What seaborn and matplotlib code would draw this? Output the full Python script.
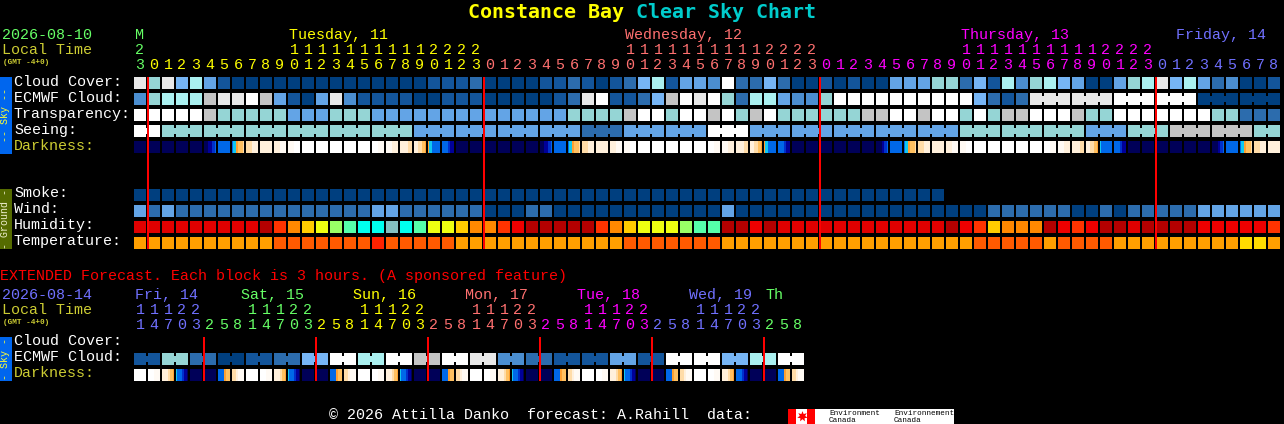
import numpy as np
import matplotlib
matplotlib.use("Agg")
import matplotlib.pyplot as plt
from matplotlib.colors import ListedColormap
from matplotlib.patches import Rectangle
import seaborn as sns

W, H = 1284, 424

# palettes
sky_colors = ["#003f7f", "#13559b", "#2c6cad", "#4b8ed0", "#63a4e6", "#76b5f5",
              "#95d5d5", "#aaf0f0", "#c4c4c4", "#e8e8e8", "#ffffff"]
humidity_colors = ["#b40000", "#e00000", "#ee0000", "#ff3300", "#ff8800", "#ffcc00",
                   "#eeff11", "#99ff66", "#55ffaa", "#00ffee", "#85c0c0"]
temp_colors = ["#ff9f00", "#ff5a00", "#ff2200", "#ffdc00"]
dark_colors = ["#000058", "#000099", "#0030cc", "#0068e8", "#10c8f0", "#ffa030",
               "#ffc060", "#ffdca8", "#fff0dc", "#fffaf4", "#ffffff"]

# hourly rows
cloud_cover = [9, 6, 9, 5, 7, 4, 1, 0, 0, 0,
               0, 0, 0, 0, 0, 0, 0, 0, 0, 0,
               0, 1, 1, 1, 2, 0, 0, 0, 0, 1,
               1, 2, 1, 0, 1, 2, 5, 7, 1, 4,
               4, 3, 10, 2, 2, 5, 2, 0, 0, 1,
               0, 1, 0, 0, 4, 4, 4, 6, 6, 2,
               5, 1, 7, 3, 6, 7, 5, 4, 0, 0,
               4, 6, 7, 9, 5, 7, 4, 2, 3, 0,
               0, 1]
ecmwf_cloud = [3, 6, 7, 7, 7, 8, 9, 9, 10, 8,
               4, 1, 0, 4, 9, 3, 1, 1, 1, 1,
               0, 0, 1, 1, 1, 0, 0, 0, 0, 0,
               1, 2, 9, 10, 1, 1, 2, 5, 8, 10,
               9, 10, 6, 2, 7, 7, 4, 3, 3, 6,
               10, 10, 10, 10, 10, 10, 10, 10, 10, 10,
               5, 2, 1, 2, 9, 9, 9, 9, 9, 9,
               10, 10, 10, 10, 10, 10, 0, 0, 0, 0,
               0, 0]
transparency = [10, 10, 10, 10, 10, 8, 6, 6, 6, 6,
                6, 4, 4, 4, 6, 6, 6, 4, 4, 4,
                4, 4, 4, 4, 4, 4, 4, 4, 4, 4,
                4, 6, 6, 6, 6, 8, 10, 10, 6, 10,
                10, 8, 10, 6, 8, 10, 6, 6, 6, 6,
                6, 6, 8, 8, 10, 10, 8, 10, 10, 6,
                10, 6, 8, 8, 10, 10, 10, 8, 6, 6,
                10, 10, 10, 10, 10, 10, 10, 6, 6, 2,
                2, 2]
seeing = [10, 10, 6, 6, 6, 6, 6, 6, 6, 6,
          6, 6, 6, 6, 6, 6, 6, 6, 6, 6,
          4, 4, 4, 4, 4, 4, 4, 4, 4, 4,
          4, 4, 2, 2, 2, 4, 4, 4, 4, 4,
          4, 10, 10, 10, 4, 4, 4, 4, 4, 4,
          4, 4, 4, 4, 4, 4, 4, 4, 4, 6,
          6, 6, 6, 6, 6, 6, 6, 6, 4, 4,
          4, 6, 6, 6, 8, 8, 8, 8, 8, 8,
          6, 6]
smoke = [0, 0, 0, 0, 0, 0, 0, 0, 0, 0,
         0, 0, 0, 0, 0, 0, 0, 0, 0, 0,
         0, 0, 0, 0, 0, 0, 0, 0, 0, 0,
         0, 0, 0, 0, 0, 0, 0, 0, 0, 0,
         0, 0, 0, 0, 0, 0, 0, 0, 0, 0,
         0, 0, 0, 0, 0, 0, 0, 0]
wind = [4, 2, 4, 2, 2, 2, 2, 2, 2, 2,
        2, 2, 2, 2, 2, 2, 2, 4, 4, 2,
        2, 2, 2, 2, 2, 0, 0, 0, 2, 2,
        0, 0, 0, 0, 0, 0, 0, 0, 0, 0,
        0, 0, 4, 0, 0, 0, 0, 0, 0, 0,
        0, 0, 0, 0, 0, 0, 0, 0, 0, 0,
        0, 2, 2, 2, 2, 2, 2, 0, 0, 2,
        0, 2, 2, 2, 2, 2, 4, 4, 4, 4,
        4, 4]
humidity = [1, 1, 1, 1, 1, 1, 1, 1, 1, 0,
            3, 4, 5, 6, 7, 8, 9, 9, 10, 9,
            8, 6, 6, 5, 4, 4, 3, 2, 0, 0,
            0, 0, 0, 3, 4, 5, 6, 6, 6, 7,
            8, 8, 0, 0, 2, 0, 1, 1, 1, 1,
            1, 1, 1, 1, 1, 1, 1, 1, 0, 2,
            3, 5, 4, 4, 4, 0, 2, 3, 2, 0,
            0, 1, 0, 0, 0, 0, 2, 2, 2, 2,
            2, 3]
temperature = [0, 0, 0, 0, 0, 0, 0, 0, 0, 0,
               1, 1, 1, 1, 1, 1, 1, 2, 1, 1,
               1, 1, 1, 0, 0, 0, 0, 0, 0, 0,
               0, 0, 0, 0, 0, 1, 1, 1, 1, 1,
               1, 1, 0, 0, 0, 0, 0, 0, 0, 0,
               0, 0, 0, 0, 0, 0, 0, 0, 0, 0,
               1, 1, 1, 1, 1, 0, 1, 1, 1, 1,
               0, 0, 0, 0, 0, 0, 0, 0, 0, 3,
               3, 0]

# darkness: six samples per cell, hex digit indexes dark_colors
darkness = ["000000", "000000", "000000", "000000", "000000", "001123", "333333", "345667",
            "777888", "888888", "888999", "999aaa", "aaaaaa", "aaaaaa", "aaaaaa", "aaaaaa",
            "aaaaaa", "aaa999", "999888", "888877", "887765", "543333", "333211", "000000",
            "000000", "000000", "000000", "000000", "000000", "001123", "333333", "345667",
            "777888", "888888", "888999", "999aaa", "aaaaaa", "aaaaaa", "aaaaaa", "aaaaaa",
            "aaaaaa", "aaa999", "999888", "888877", "887765", "543333", "333211", "000000",
            "000000", "000000", "000000", "000000", "000000", "000123", "333333", "345667",
            "777888", "888888", "888999", "999aaa", "aaaaaa", "aaaaaa", "aaaaaa", "aaaaaa",
            "aaaaaa", "aaa999", "999888", "888877", "887765", "433333", "333211", "000000",
            "000000", "000000", "000000", "000000", "000000", "000123", "333333", "345667",
            "777888", "888888"]

# extended forecast
ext_ecmwf_blocks = [1, 6, 2, 0, 1, 2, 5, 10, 7, 10, 8, 10,
                    9, 3, 2, 1, 1, 4, 1, 10, 10, 5, 7, 10]
ext_darkness = ["aaaaaa", "aaa999", "888765", "433210", "000000", "000000", "333566", "778999",
                "aaaaaa", "aaa999", "888765", "433210", "000000", "000000", "333566", "778999",
                "aaaaaa", "aaa999", "888765", "433210", "000000", "000000", "333566", "778999",
                "aaaaaa", "aaa999", "888765", "433210", "000000", "000000", "333566", "778999",
                "aaaaaa", "aaa999", "888765", "433210", "000000", "000000", "333566", "778999",
                "aaaaaa", "aaa999", "888765", "333210", "000000", "000000", "333566", "778999"]

# header labels
hours_day = [0, 1, 2, 3, 4, 5, 6, 7, 8, 9, 10, 11, 12, 13, 14, 15, 16, 17, 18, 19, 20, 21, 22, 23]
top_hours = [23] + hours_day + hours_day + hours_day + [0, 1, 2, 3, 4, 5, 6, 7, 8]
top_day_starts = [0, 1, 25, 49, 73]
top_colors = ["#66ff66", "#ffff00", "#ff7070", "#ff00ff", "#7070ff"]
top_labels = ["M", "Tuesday, 11", "Wednesday, 12", "Thursday, 13", "Friday, 14"]
top_label_x = [135, 289, 625, 961, 1176]
ext_cycle = [2, 5, 8, 11, 14, 17, 20, 23]
ext_hours = [11, 14, 17, 20, 23] + ext_cycle * 5 + [2, 5, 8]
ext_day_starts = [0, 5, 13, 21, 29, 37, 45]
ext_colors = ["#7070ff", "#66ff66", "#ffff00", "#ff7070", "#ff00ff", "#7070ff", "#66ff66"]
ext_labels = ["Fri, 14", "Sat, 15", "Sun, 16", "Mon, 17", "Tue, 18", "Wed, 19", "Th"]
ext_label_x = [135, 241, 353, 465, 577, 689, 765]

X0, PITCH = 134, 14
PX = 72 / 100  # one pixel in points at dpi 100
MONO = ["Liberation Mono", "DejaVu Sans Mono"]

sns.set_theme(style="white")
plt.rcParams["font.family"] = MONO
plt.rcParams["axes.facecolor"] = "black"

fig = plt.figure(figsize=(W / 100, H / 100), dpi=100, facecolor="black")


def block_axes(y, h, n):
    # one strip of cells, placed by pixel position on the figure
    return fig.add_axes([(X0 - 1) / W, 1 - (y + h) / H, n * PITCH / W, h / H])


def draw_row(values, colors, y, groups=None):
    ax = block_axes(y - 1, 14, len(values))
    sns.heatmap(np.array([values]), ax=ax, cmap=ListedColormap(colors), vmin=-0.5,
                vmax=len(colors) - 0.5, cbar=False, linewidths=2 * PX, linecolor="black",
                xticklabels=False, yticklabels=False)
    if groups:
        # blocks of one forecast step are tied together by a short bridge
        for start, size in groups:
            for i in range(start + 1, start + size):
                ax.vlines(i, 4 / 14, 10 / 14, color=colors[values[i]], lw=2 * PX)
    ax.set_axis_off()


def draw_darkness(cells, y):
    samples = [int(ch, 16) for cell in cells for ch in cell]
    ax = block_axes(y, 12, len(cells))
    sns.heatmap(np.array([samples]), ax=ax, cmap=ListedColormap(dark_colors), vmin=-0.5,
                vmax=10.5, cbar=False, xticklabels=False, yticklabels=False)
    ax.vlines(np.arange(len(cells) + 1) * 6, 0, 1, color="black", lw=2 * PX)
    ax.set_axis_off()


seeing_groups = [(0, 2)] + [(s, 3) for s in range(2, 80, 3)] + [(80, 2)]
ecmwf_groups = [(s, 3) for s in range(64, 82, 3)]
ext_groups = [(s, 2) for s in range(0, 48, 2)]

draw_row(cloud_cover, sky_colors, 77)
draw_row(ecmwf_cloud, sky_colors, 93, ecmwf_groups)
draw_row(transparency, sky_colors, 109)
draw_row(seeing, sky_colors, 125, seeing_groups)
draw_darkness(darkness, 141)

draw_row(smoke, sky_colors, 189)
draw_row(wind, sky_colors, 205)
draw_row(humidity, humidity_colors, 221)
draw_row(temperature, temp_colors, 237)

draw_row(list(np.repeat(ext_ecmwf_blocks, 2)), sky_colors, 353, ext_groups)
draw_darkness(ext_darkness, 369)

# overlay in pixel coordinates for text, side bars and midnight lines
ov = fig.add_axes([0, 0, 1, 1], zorder=5)
ov.set_xlim(0, W)
ov.set_ylim(H, 0)
ov.patch.set_alpha(0)
ov.set_axis_off()

LABEL_SIZE = 15 * PX


def label(x, y, s, color="white", size=LABEL_SIZE, **kw):
    ov.text(x, y, s, color=color, fontsize=size, va="baseline", **kw)


# title
label(468, 18, "Constance Bay", "#ffff00", 20 * PX, fontweight="bold", family="DejaVu Sans Mono")
label(636, 18, "Clear Sky Chart", "#00cccc", 20 * PX, fontweight="bold", family="DejaVu Sans Mono")


def header(hours, starts, colors, names, name_x, y_name, date, date_color):
    label(2, y_name, date, date_color)
    label(2, y_name + 15, "Local Time", "#cccc33")
    label(3, y_name + 25, "(GMT -4+0)", "#cccc33", 7.8 * PX, fontweight="bold")
    col_color = np.searchsorted(starts, np.arange(len(hours)), side="right") - 1
    for i, hour in enumerate(hours):
        x = X0 + PITCH * i + 6
        c = colors[col_color[i]]
        if hour >= 10:
            label(x, y_name + 15, str(hour // 10), c, ha="center")
        label(x, y_name + 30, str(hour % 10), c, ha="center")
    for s, x, c in zip(names, name_x, colors):
        label(x, y_name, s, c)


header(top_hours, top_day_starts, top_colors, top_labels, top_label_x, 39,
       "2026-08-10", "#66ff66")
header(ext_hours, ext_day_starts, ext_colors, ext_labels, ext_label_x, 299,
       "2026-08-14", "#7070ff")

for y, s, c in [(86, "Cloud Cover:", "white"), (102, "ECMWF Cloud:", "white"),
                (118, "Transparency:", "white"), (134, "Seeing:", "white"),
                (150, "Darkness:", "#cccc33"),
                (197, "Smoke:", "white"), (213, "Wind:", "white"),
                (229, "Humidity:", "white"), (245, "Temperature:", "white"),
                (345, "Cloud Cover:", "white"), (361, "ECMWF Cloud:", "white"),
                (377, "Darkness:", "#cccc33")]:
    label(14, y, s, c)

label(0, 280, "EXTENDED Forecast. Each block is 3 hours. (A sponsored feature)", "#ff0000")
label(329, 419, "\u00a9 2026 Attilla Danko  forecast: A.Rahill  data:")

# side bars
for y0, y1, c, s, tc in [(77, 154, "#0066ee", "-- Sky --", "#ffff33"),
                         (189, 249, "#556b00", "- Ground -", "#f0f0d0"),
                         (337, 381, "#0066ee", "- Sky -", "#ffff33")]:
    ov.add_patch(Rectangle((0, y0), 12, y1 - y0, facecolor=c, edgecolor="none"))
    ov.text(5.5, (y0 + y1) / 2, s, color=tc, fontsize=10 * PX, rotation=90,
            ha="center", va="center")

# midnight lines
ov.vlines([X0 - 1 + PITCH * s + 1 for s in top_day_starts[1:]], 77, 249, color="#ff0000", lw=2 * PX)
ov.vlines([X0 - 1 + PITCH * s + 1 for s in ext_day_starts[1:]], 337, 381, color="#ff0000", lw=2 * PX)

# Environment Canada logo
ov.add_patch(Rectangle((788, 409), 166, 15, facecolor="white", edgecolor="none"))
ov.add_patch(Rectangle((788, 409), 8, 15, facecolor="#ff0000", edgecolor="none"))
ov.add_patch(Rectangle((807, 409), 8, 15, facecolor="#ff0000", edgecolor="none"))
ov.scatter([801.5], [416], s=60, marker=(7, 1, 0), color="#ff0000", linewidths=0)
for x, s in [(829, "Environment"), (894, "Environnement")]:
    label(x, 415, s, "black", 7.6 * PX)
    label(x, 422, "Canada", "black", 7.6 * PX)

fig.savefig("out.png", dpi=100, facecolor="black")
